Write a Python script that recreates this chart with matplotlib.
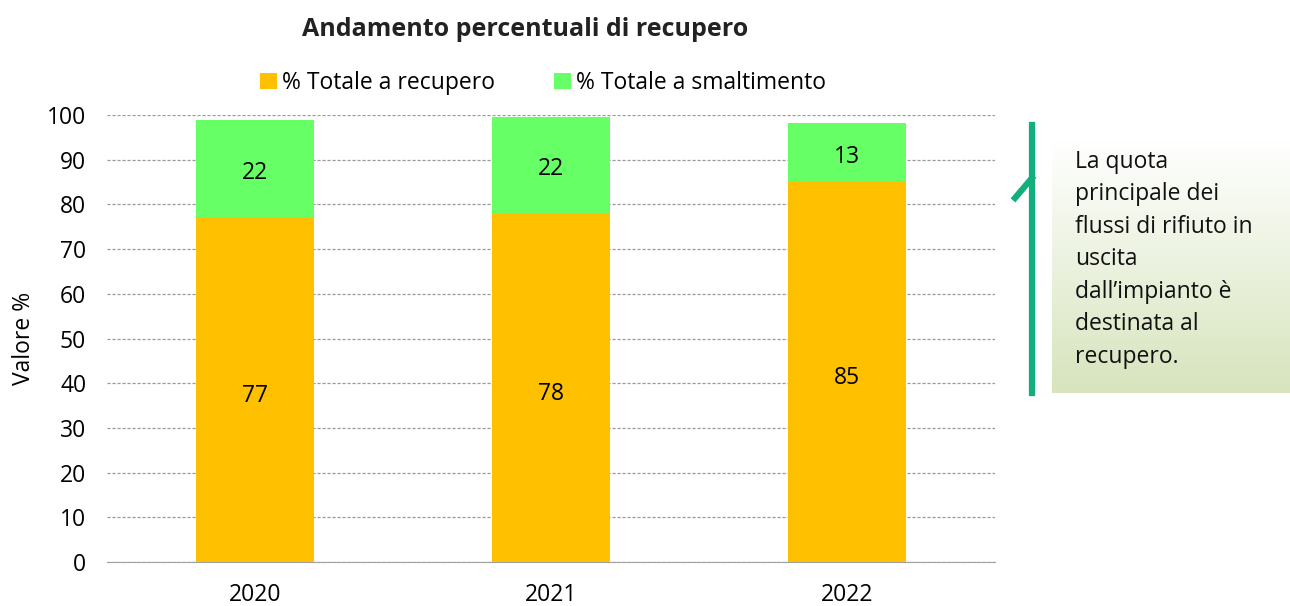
import matplotlib
matplotlib.use("Agg")
import matplotlib.pyplot as plt
import numpy as np
from matplotlib.lines import Line2D

plt.rcParams['font.family'] = ['Open Sans', 'DejaVu Sans']

years = ['2020', '2021', '2022']
recupero = [77.2, 78.1, 85.2]
smaltimento = [21.7, 21.5, 13.0]
rec_labels = ['77', '78', '85']
sma_labels = ['22', '22', '13']
series_names = ['% Totale a recupero', '% Totale a smaltimento']
title = 'Andamento percentuali di recupero'
note = "La quota\nprincipale dei\nflussi di rifiuto in\nuscita\ndall\u2019impianto \u00e8\ndestinata al\nrecupero."

W, H = 1290, 606
FS = 16.5
fig = plt.figure(figsize=(W/100, H/100), dpi=100)
ax = fig.add_axes([107/W, (H-562)/H, (995-107)/W, (562-115)/H])

x = np.arange(len(years))
b1 = ax.bar(x, recupero, width=0.4, color='#FFC000', label=series_names[0], zorder=3)
b2 = ax.bar(x, smaltimento, width=0.4, bottom=recupero, color='#66FF66', label=series_names[1], zorder=3)
for i in range(len(years)):
    ax.text(x[i], recupero[i]/2 - 1.5, rec_labels[i], ha='center', va='center', fontsize=FS, zorder=4)
    ax.text(x[i], recupero[i] + smaltimento[i]/2 - 1.0, sma_labels[i], ha='center', va='center', fontsize=FS, zorder=4)

ax.set_xlim(-0.5, 2.5)
ax.set_ylim(0, 100)
ax.set_yticks(range(0, 101, 10))
ax.set_xticks(x)
ax.set_xticklabels(years)
ax.tick_params(axis='both', length=0, labelsize=FS)
ax.tick_params(axis='y', pad=15)
ax.tick_params(axis='x', pad=15)
ax.yaxis.grid(True, linestyle=(0, (2.5, 1.5)), color='#9a9a9a', linewidth=0.9, zorder=0)
for s in ['top', 'right', 'left']:
    ax.spines[s].set_visible(False)
ax.spines['bottom'].set_color('#a0a0a0')
ax.set_ylabel('Valore %', fontsize=FS, labelpad=8)

fig.text(525/W, 1 - 30/H, title, ha='center', va='center', fontsize=18, fontweight='bold', color='#222222')
fig.legend(handles=[b1, b2], labels=series_names, loc='center', bbox_to_anchor=(543/W, 1 - 83/H),
           ncol=2, frameon=False, fontsize=FS, handlelength=0.75, handleheight=0.75,
           handletextpad=0.2, columnspacing=2.6)

# gradient note box
bx = fig.add_axes([1052/W, (H-393)/H, (W-1052)/W, (393-140)/H])
grad = np.linspace(0, 1, 256).reshape(-1, 1)
top = np.array([1.0, 1.0, 1.0])
bot = np.array([215, 228, 189]) / 255
img = top[None, None, :] * (1 - grad[:, :, None]) + bot[None, None, :] * grad[:, :, None]
bx.imshow(img, aspect='auto', extent=[0, 1, 0, 1])
bx.axis('off')
fig.text(1075/W, 1 - 150/H, note, ha='left', va='top', fontsize=FS, linespacing=1.47, color='#111111')

fig.add_artist(Line2D([1032/W, 1032/W], [1 - 125/H, 1 - 393/H], color='#13AE7E', linewidth=4.5))
fig.add_artist(Line2D([1015/W, 1032/W], [1 - 198/H, 1 - 178/H], color='#13AE7E', linewidth=4.5))

fig.savefig('out.png', dpi=100)
